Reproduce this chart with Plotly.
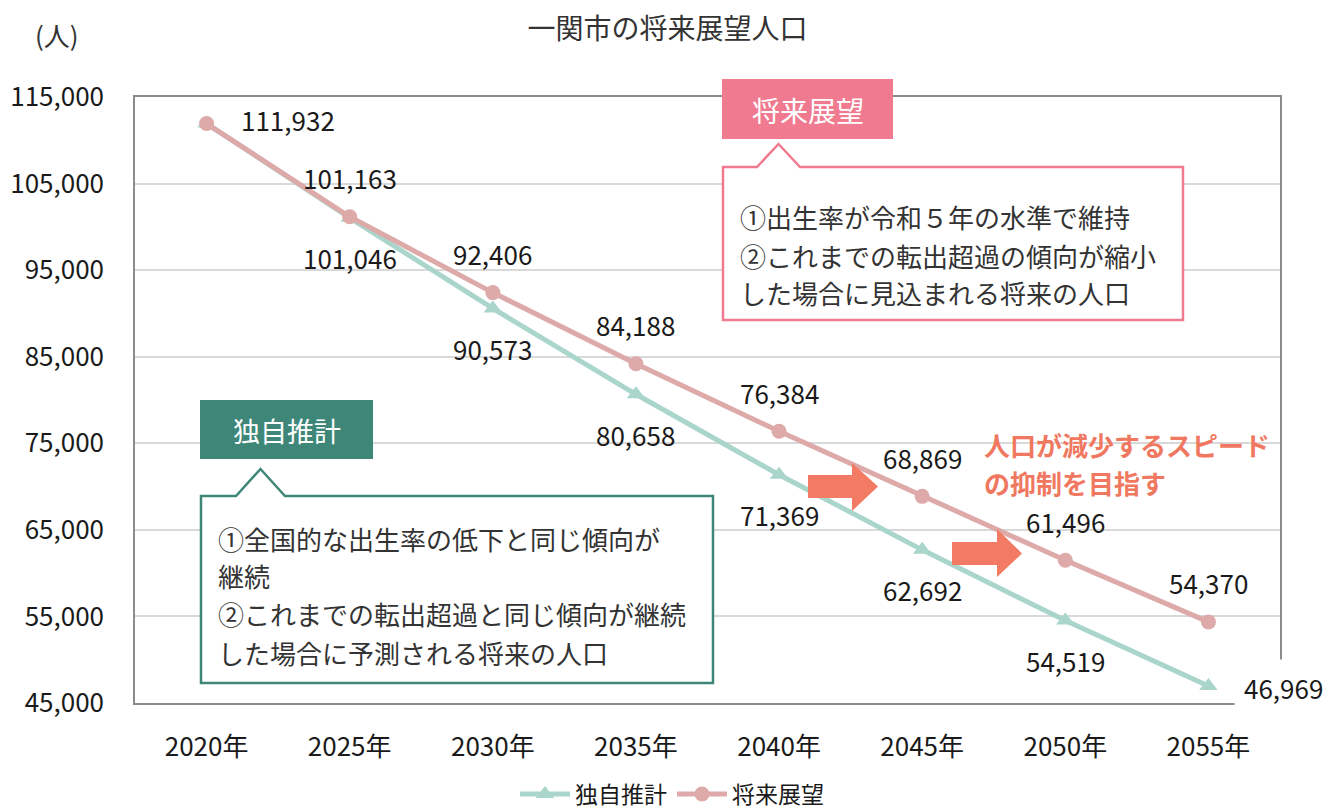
import plotly.graph_objects as go

years = ["2020年", "2025年", "2030年", "2035年", "2040年", "2045年", "2050年", "2055年"]
dokuji = [111932, 101046, 90573, 80658, 71369, 62692, 54519, 46969]
shorai = [111932, 101163, 92406, 84188, 76384, 68869, 61496, 54370]
ytick_vals = [45000, 55000, 65000, 75000, 85000, 95000, 105000, 115000]

FONT = "Noto Sans CJK JP"
TEAL_LINE = "#A9D5CB"
PINK_LINE = "#DDA9A9"
TEAL_BOX = "#3E8778"
PINK_BOX = "#F07A90"
ARROW = "#F47B63"
TXT = "#1a1a1a"

# page offset of the plot div (default body margin)
O = 8
PAGE_W, PAGE_H = 1339, 809
W, H = PAGE_W - O, PAGE_H - O
# plot area in page pixels
L, R, T, B = 135, 1280, 97, 703


def px(x):
    return (x - L) / (R - L)


def py(y):
    return (B - y) / (B - T)


fig = go.Figure()
fig.add_trace(go.Scatter(x=years, y=dokuji, name="独自推計", mode="lines+markers",
                         line=dict(color=TEAL_LINE, width=5),
                         marker=dict(symbol="triangle-up", size=16, color=TEAL_LINE)))
fig.add_trace(go.Scatter(x=years, y=shorai, name="将来展望", mode="lines+markers",
                         line=dict(color=PINK_LINE, width=5),
                         marker=dict(symbol="circle", size=15, color=PINK_LINE)))

ann = []
# data labels
for i, (yr, v) in enumerate(zip(years, shorai)):
    if i == 0:
        ann.append(dict(x=yr, y=v, text=f"{v:,}", showarrow=False, xshift=81, yshift=4))
    else:
        ann.append(dict(x=yr, y=v, text=f"{v:,}", showarrow=False, yshift=39))
for i, (yr, v) in enumerate(zip(years, dokuji)):
    if i == 0:
        continue
    if i == len(years) - 1:
        ann.append(dict(x=yr, y=v, text=f"{v:,}", showarrow=False, xshift=75, yshift=-2,
                        bgcolor="white", borderpad=9))
    else:
        ann.append(dict(x=yr, y=v, text=f"{v:,}", showarrow=False, yshift=-40))
for a in ann:
    a.update(xref="x", yref="y", xanchor="center", yanchor="middle",
             font=dict(size=26, color=TXT, family=FONT))

shapes = []


def callout(x0, y0, x1, y1, nx0, nx1, ntop, color):
    pts = [(x0, y0), (nx0, y0), ((nx0 + nx1) / 2, ntop), (nx1, y0), (x1, y0), (x1, y1), (x0, y1)]
    path = "M " + " L ".join(f"{px(a):.5f},{py(b):.5f}" for a, b in pts) + " Z"
    shapes.append(dict(type="path", xref="paper", yref="paper", path=path,
                       fillcolor="white", line=dict(color=color, width=2.5), layer="above"))


def arrow(x0, yb0, yb1, xh, yh0, yh1, tip):
    ym = (yb0 + yb1) / 2
    pts = [(x0, yb0), (xh, yb0), (xh, yh0), (tip, ym), (xh, yh1), (xh, yb1), (x0, yb1)]
    path = "M " + " L ".join(f"{px(a):.5f},{py(b):.5f}" for a, b in pts) + " Z"
    shapes.append(dict(type="path", xref="paper", yref="paper", path=path,
                       fillcolor=ARROW, line=dict(width=0), layer="above"))


def text(x, y, s, size, color, xanchor="left", bold=False):
    ann.append(dict(xref="paper", yref="paper", x=px(x), y=py(y), xanchor=xanchor, yanchor="middle",
                    align="left", showarrow=False, text=f"<b>{s}</b>" if bold else s,
                    font=dict(size=size, color=color, family=FONT)))


# pink header + callout
shapes.append(dict(type="rect", xref="paper", yref="paper", x0=px(722), x1=px(893),
                   y0=py(139), y1=py(79), fillcolor=PINK_BOX, line=dict(width=0), layer="above"))
callout(723, 167, 1183, 320, 757, 800, 144, PINK_BOX)
# teal header + callout
shapes.append(dict(type="rect", xref="paper", yref="paper", x0=px(200), x1=px(373),
                   y0=py(459), y1=py(400), fillcolor=TEAL_BOX, line=dict(width=0), layer="above"))
callout(201, 496, 713, 683, 236, 285, 469, TEAL_BOX)
arrow(808, 475, 498, 852, 463, 511, 878)
arrow(952, 542, 565, 997, 529, 577, 1022)

text(807.5, 110, "将来展望", 28, "white", xanchor="center")
text(286.5, 430, "独自推計", 27, "white", xanchor="center")
pink_lines = ["①出生率が令和５年の水準で維持", "②これまでの転出超過の傾向が縮小", "した場合に見込まれる将来の人口"]
for s, y in zip(pink_lines, [217, 255, 292]):
    text(738, y, s, 26, "#333333")
teal_lines = ["①全国的な出生率の低下と同じ傾向が", "継続", "②これまでの転出超過と同じ傾向が継続",
              "した場合に予測される将来の人口"]
for s, y in zip(teal_lines, [538, 575, 613, 652]):
    text(216, y, s, 26, "#333333")
text(982, 444, "人口が減少するスピード", 26, "#F07860", bold=True)
text(982, 482, "の抑制を目指す", 26, "#F07860", bold=True)
text(57, 35, "(人)", 26, "#333333", xanchor="center")

fig.update_layout(
    width=W, height=H,
    margin=dict(l=L - O, r=PAGE_W - R, t=T - O, b=PAGE_H - B, autoexpand=False),
    paper_bgcolor="white", plot_bgcolor="white",
    font=dict(family=FONT, color="#333333"),
    title=dict(text="一関市の将来展望人口", x=(667.5 - O) / W, xanchor="center",
               y=1 - (29 - O) / H, yanchor="middle",
               font=dict(size=28, color="#333333", family=FONT)),
    showlegend=True,
    legend=dict(orientation="h", x=px(672), xanchor="center", y=py(794), yanchor="middle",
                font=dict(size=23, color=TXT, family=FONT), itemwidth=50, tracegroupgap=10),
    annotations=ann, shapes=shapes,
)
fig.update_xaxes(type="category", range=[-0.5, 7.5], showgrid=False, showline=True, mirror=True,
                 linecolor="#8c8c8c", linewidth=1.5, ticks="", ticklabelstandoff=20,
                 tickfont=dict(size=26, color=TXT, family=FONT))
fig.update_yaxes(range=[45000, 115000], tickvals=ytick_vals, tickformat=",", showgrid=True,
                 gridcolor="#d9d9d9", gridwidth=1.5, showline=True, mirror=True, zeroline=False,
                 linecolor="#8c8c8c", linewidth=1.5, ticks="", ticklabelstandoff=24,
                 tickfont=dict(size=26, color=TXT, family=FONT))

fig.write_html("out.html")
